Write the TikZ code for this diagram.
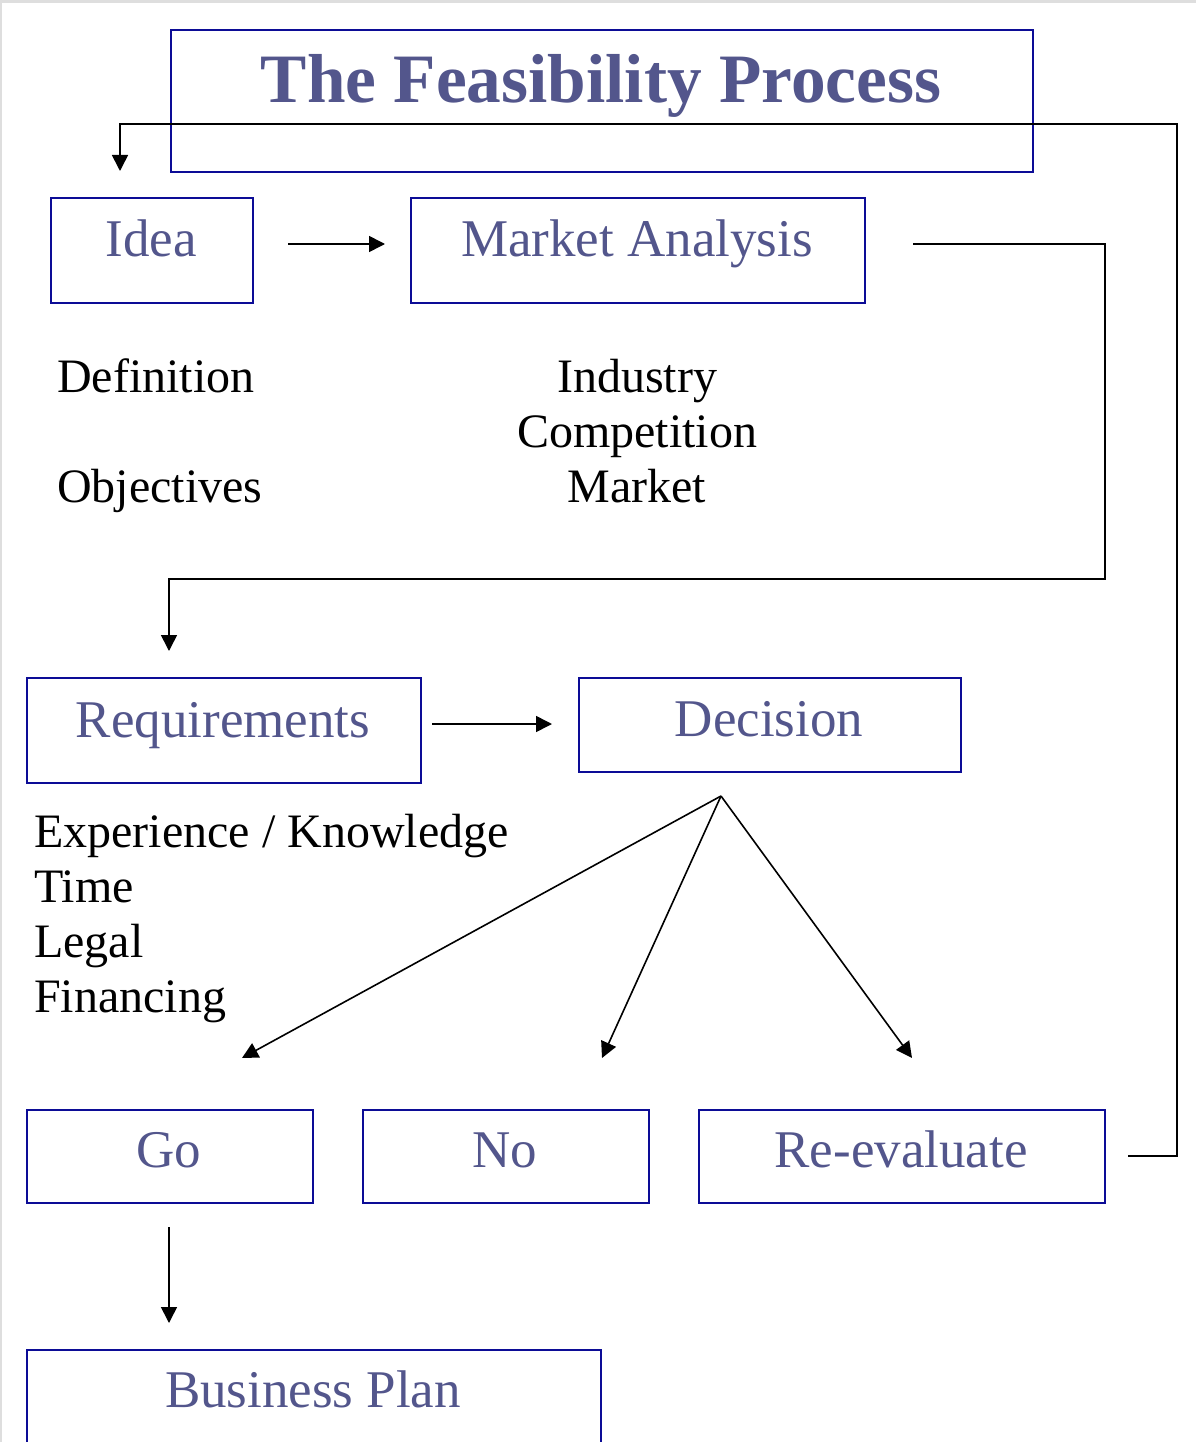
\documentclass[tikz,border=0pt]{standalone}
\usepackage{fontspec}
\setmainfont{Liberation Serif}
\usetikzlibrary{arrows.meta}
\definecolor{boxline}{RGB}{12,12,150}
\definecolor{boxtxt}{RGB}{83,86,140}
\definecolor{edgegray}{RGB}{222,222,222}
\tikzset{
  box/.style={draw=boxline, line width=2pt, rectangle, inner sep=0pt, anchor=north west},
  boxlabel/.style={text=boxtxt, anchor=base, inner sep=0pt, font=\fontsize{53}{60}\selectfont},
  plain/.style={text=black, anchor=base west, inner sep=0pt, font=\fontsize{48}{55}\selectfont},
  plainc/.style={text=black, anchor=base, inner sep=0pt, font=\fontsize{48}{55}\selectfont},
  conn/.style={draw=black, line width=1.6pt},
  arr/.style={conn, -{Triangle[length=16pt,width=16pt]}}
}
\begin{document}
\begin{tikzpicture}[x=1pt,y=-1pt]
\fill[edgegray] (0,0) rectangle (1196,1442);
\fill[white] (1.5,3.5) rectangle (1196,1442);
\useasboundingbox (0,0) rectangle (1196,1442);

% boxes
\node[box, minimum width=862pt, minimum height=142pt] (title) at (169.5,29) {};
\node[text=boxtxt, anchor=base, inner sep=0pt, font=\fontsize{69.3}{80}\selectfont\bfseries] (titleT) at (601,103) {The Feasibility Process};

\node[box, minimum width=202pt, minimum height=105pt] (idea) at (49.5,197) {};
\node[boxlabel] (ideaT) at (151,256) {Idea};

\node[box, minimum width=454pt, minimum height=105pt] (market) at (409.5,197) {};
\node[boxlabel] (marketT) at (637,256) {Market Analysis};

\node[box, minimum width=394pt, minimum height=105pt] (req) at (25.5,677) {};
\node[boxlabel] (reqT) at (223,737) {Requirements};

\node[box, minimum width=382pt, minimum height=94pt] (dec) at (577.5,677) {};
\node[boxlabel] (decT) at (769,736) {Decision};

\node[box, minimum width=286pt, minimum height=93pt] (go) at (25.5,1109) {};
\node[boxlabel] (goT) at (169,1167) {Go};

\node[box, minimum width=286pt, minimum height=93pt] (no) at (361.5,1109) {};
\node[boxlabel] (noT) at (505,1167) {No};

\node[box, minimum width=406pt, minimum height=93pt] (reev) at (697.5,1109) {};
\node[boxlabel] (reevT) at (901,1167) {Re-evaluate};

\node[box, minimum width=574pt, minimum height=110pt] (bp) at (25.5,1349) {};
\node[boxlabel] (bpT) at (313,1407) {Business Plan};

% plain texts
\node[plain] (def) at (57,392) {Definition};
\node[plain] (obj) at (57,502) {Objectives};
\node[plainc] (ind) at (637,392) {Industry};
\node[plainc] (comp) at (637,447) {Competition};
\node[plainc] (mkt) at (637,502) {Market};
\node[plain] (exp) at (34,847) {Experience / Knowledge};
\node[plain] (time) at (34,902) {Time};
\node[plain] (legal) at (34,957) {Legal};
\node[plain] (fin) at (34,1012) {Financing};

% connector coordinates
\coordinate (ideaOut) at (288,244);
\coordinate (marketIn) at (385,244);
\coordinate (marketOut) at (913,244);
\coordinate (reqIn) at (169,651);
\coordinate (reqOut) at (432,724);
\coordinate (decIn) at (552,724);
\coordinate (fan) at (721,796);
\coordinate (goIn) at (242,1058);
\coordinate (noIn) at (602,1058);
\coordinate (reevIn) at (912,1058);
\coordinate (reevOut) at (1128,1156);
\coordinate (ideaIn) at (120,171);
\coordinate (goOut) at (169,1227);
\coordinate (bpIn) at (169,1323);

% connectors
\draw[arr] (ideaOut) -- (marketIn);
\draw[arr] (marketOut) -- (1105,244) -- (1105,579) -- (169,579) -- (reqIn);
\draw[arr] (reqOut) -- (decIn);
\draw[arr] (fan) -- (goIn);
\draw[arr] (fan) -- (noIn);
\draw[arr] (fan) -- (reevIn);
\draw[arr] (reevOut) -- (1177,1156) -- (1177,124) -- (120,124) -- (ideaIn);
\draw[arr] (goOut) -- (bpIn);
\end{tikzpicture}
\end{document}
